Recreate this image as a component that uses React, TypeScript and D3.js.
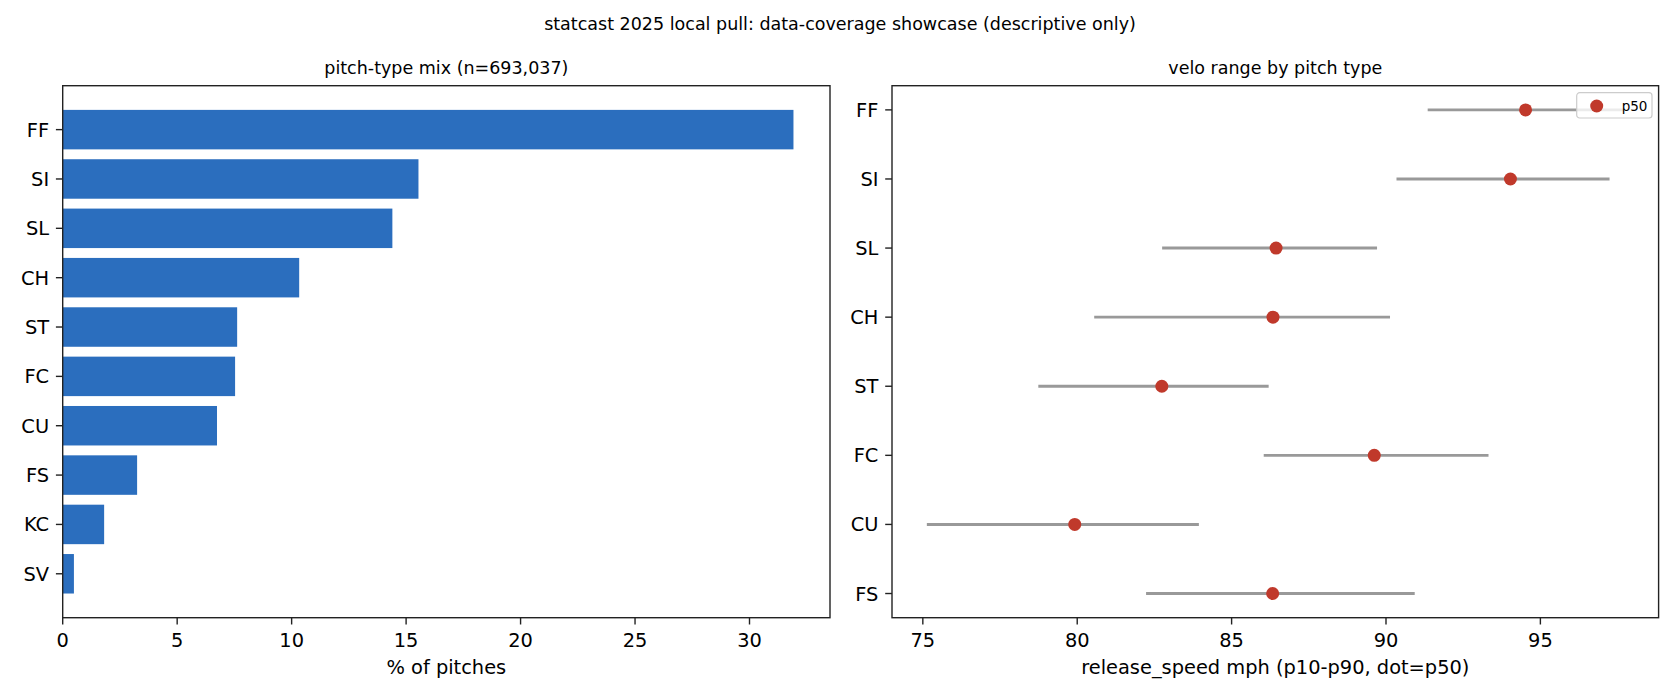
import React from 'react';
import * as d3 from 'd3';

// pitch-type mix (share of all pitches, %)
const mixTypes = ['FF', 'SI', 'SL', 'CH', 'ST', 'FC', 'CU', 'FS', 'KC', 'SV'];
const mixPct = [31.92, 15.54, 14.4, 10.33, 7.62, 7.53, 6.74, 3.25, 1.81, 0.49];
const mixTicks = [0, 5, 10, 15, 20, 25, 30];

// release speed percentiles by pitch type (mph)
const veloTypes = ['FF', 'SI', 'SL', 'CH', 'ST', 'FC', 'CU', 'FS'];
const veloP10 = [91.35, 90.34, 82.75, 80.55, 78.74, 86.04, 75.13, 82.23];
const veloP50 = [94.52, 94.03, 86.44, 86.34, 82.74, 89.62, 79.92, 86.33];
const veloP90 = [97.7, 97.24, 89.71, 90.13, 86.2, 93.32, 83.94, 90.93];
const veloTicks = [75, 80, 85, 90, 95];

const W = 1680;
const H = 700;
const FONT = '"DejaVu Sans", sans-serif';
const BAR = '#2b6ebe';
const DOT = '#c0392b';
const RANGE = '#999999';
const INK = '#222';

const top = 85.7;
const bottom = 617.7;
const left = { x0: 62.7, x1: 830 };
const right = { x0: 892, x1: 1658.6 };
const tickLen = 6.8;
const tickFs = 19.4;
const titleFs = 17.5;

const App: React.FC = () => {
  // left panel scales
  const xMix = d3
    .scaleLinear()
    .domain([0, (d3.max(mixPct) as number) * 1.05])
    .range([left.x0, left.x1]);
  const yMix = d3
    .scaleLinear()
    .domain([-0.4 - 0.49, mixTypes.length - 1 + 0.4 + 0.49])
    .range([top, bottom]);

  // right panel scales
  const lo = d3.min(veloP10) as number;
  const hi = d3.max(veloP90) as number;
  const pad = (hi - lo) * 0.05;
  const xVelo = d3.scaleLinear().domain([lo - pad, hi + pad]).range([right.x0, right.x1]);
  const n = veloTypes.length - 1;
  const yVelo = d3
    .scaleLinear()
    .domain([-n * 0.05, n * 1.05])
    .range([top, bottom]);

  const frame = (x0: number, x1: number) => (
    <rect
      x={x0}
      y={top}
      width={x1 - x0}
      height={bottom - top}
      fill="none"
      stroke={INK}
      strokeWidth={1.4}
    />
  );

  const xAxis = (scale: d3.ScaleLinear<number, number>, ticks: number[]) =>
    ticks.map((t) => (
      <g key={t} transform={`translate(${scale(t)},${bottom})`}>
        <line y2={tickLen} stroke={INK} strokeWidth={1.4} />
        <text y={29.5} textAnchor="middle" fontSize={tickFs} fill="#000">
          {t}
        </text>
      </g>
    ));

  const yAxis = (x0: number, labels: string[], scale: d3.ScaleLinear<number, number>) =>
    labels.map((l, i) => (
      <g key={l} transform={`translate(${x0},${scale(i)})`}>
        <line x2={-tickLen} stroke={INK} strokeWidth={1.4} />
        <text x={-tickLen - 6.8} dy="0.36em" textAnchor="end" fontSize={tickFs} fill="#000">
          {l}
        </text>
      </g>
    ));

  return (
    <svg
      width={W}
      height={H}
      viewBox={`0 0 ${W} ${H}`}
      style={{ position: 'absolute', left: 0, top: 0, background: '#fff' }}
      fontFamily={FONT}
    >
      <rect width={W} height={H} fill="#fff" />
      <text x={W / 2} y={29.5} textAnchor="middle" fontSize={titleFs}>
        statcast 2025 local pull: data-coverage showcase (descriptive only)
      </text>

      {/* left: pitch-type mix */}
      <g>
        {mixTypes.map((t, i) => (
          <rect
            key={t}
            x={xMix(0)}
            y={yMix(i - 0.4)}
            width={xMix(mixPct[i]) - xMix(0)}
            height={yMix(i + 0.4) - yMix(i - 0.4)}
            fill={BAR}
          />
        ))}
        {frame(left.x0, left.x1)}
        {xAxis(xMix, mixTicks)}
        {yAxis(left.x0, mixTypes, yMix)}
        <text x={(left.x0 + left.x1) / 2} y={74} textAnchor="middle" fontSize={titleFs}>
          pitch-type mix (n=693,037)
        </text>
        <text x={(left.x0 + left.x1) / 2} y={674} textAnchor="middle" fontSize={tickFs}>
          % of pitches
        </text>
      </g>

      {/* right: velo range */}
      <g>
        {veloTypes.map((t, i) => (
          <line
            key={t}
            x1={xVelo(veloP10[i])}
            x2={xVelo(veloP90[i])}
            y1={yVelo(i)}
            y2={yVelo(i)}
            stroke={RANGE}
            strokeWidth={2.9}
          />
        ))}
        {veloTypes.map((t, i) => (
          <circle key={t} cx={xVelo(veloP50[i])} cy={yVelo(i)} r={6.5} fill={DOT} />
        ))}
        {frame(right.x0, right.x1)}
        {xAxis(xVelo, veloTicks)}
        {yAxis(right.x0, veloTypes, yVelo)}
        <text x={(right.x0 + right.x1) / 2} y={74} textAnchor="middle" fontSize={titleFs}>
          velo range by pitch type
        </text>
        <text x={(right.x0 + right.x1) / 2} y={674} textAnchor="middle" fontSize={tickFs}>
          release_speed mph (p10-p90, dot=p50)
        </text>

        {/* legend */}
        <g transform="translate(1576.7,92.7)">
          <rect
            width={75.3}
            height={25.3}
            rx={3}
            fill="#fff"
            fillOpacity={0.8}
            stroke="#cccccc"
            strokeWidth={1.2}
          />
          <circle cx={20} cy={13.3} r={6.5} fill={DOT} />
          <text x={45} y={13.3} dy="0.36em" fontSize={13.5}>
            p50
          </text>
        </g>
      </g>
    </svg>
  );
};

export default App;
